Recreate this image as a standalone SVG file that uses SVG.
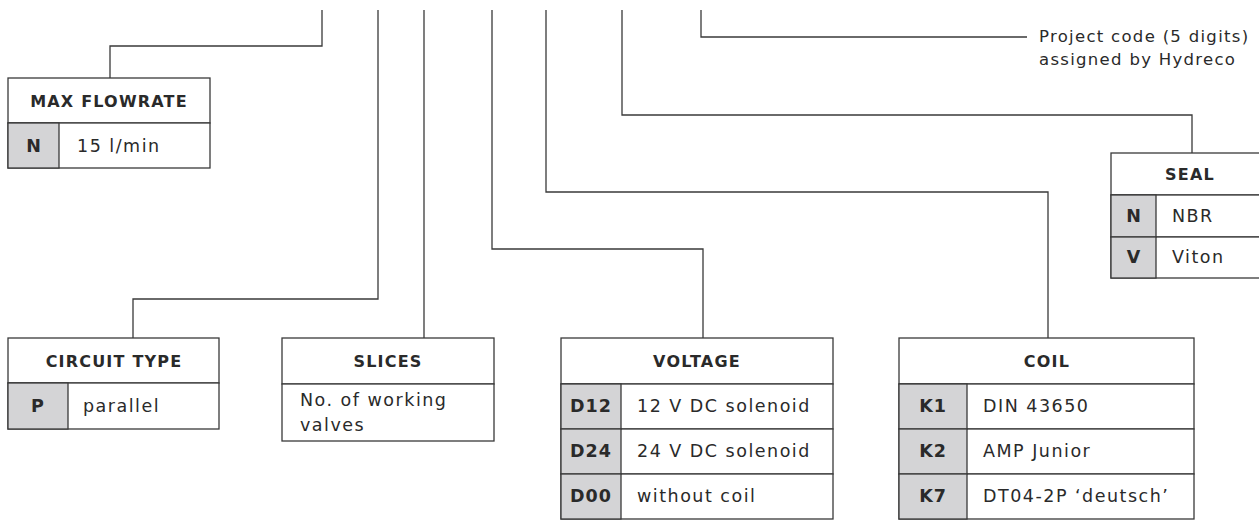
<svg xmlns="http://www.w3.org/2000/svg" width="1259" height="520" viewBox="0 0 1259 520">
<style>
.bx{fill:#fff;stroke:#3a3a3a;stroke-width:1.3}
.g{fill:#d4d4d6;stroke:#3a3a3a;stroke-width:1.3}
.ln{fill:none;stroke:#3a3a3a;stroke-width:1.3}
.h{font-family:"DejaVu Sans",sans-serif;font-weight:bold;font-size:16px;letter-spacing:1.2px;fill:#2a2a2a;text-anchor:middle}
.c{font-family:"DejaVu Sans",sans-serif;font-weight:bold;font-size:17.5px;letter-spacing:1px;fill:#2a2a2a;text-anchor:middle}
.t{font-family:"DejaVu Sans",sans-serif;font-size:17.5px;letter-spacing:1.5px;fill:#2a2a2a}
.p{font-family:"DejaVu Sans",sans-serif;font-size:16.5px;letter-spacing:1.3px;fill:#2a2a2a}
</style>
<rect width="1259" height="520" fill="#fff"/>
<g id="connectors">
<polyline class="ln" points="322,10 322,46 110,46 110,78"/>
<polyline class="ln" points="378,10 378,299 133,299 133,338"/>
<polyline class="ln" points="424,10 424,338"/>
<polyline class="ln" points="492,10 492,249 703,249 703,338"/>
<polyline class="ln" points="546,10 546,192 1048,192 1048,338"/>
<polyline class="ln" points="622,10 622,115 1192,115 1192,153"/>
<polyline class="ln" points="701,10 701,37 1027,37"/>
</g>
<g id="project-code">
<text class="p" x="1039" y="42">Project code (5 digits)</text>
<text class="p" x="1039" y="65">assigned by Hydreco</text>
</g>
<g id="max-flowrate">
<rect class="bx" x="8" y="78" width="202" height="45"/>
<rect class="bx" x="8" y="123" width="202" height="45"/>
<rect class="g" x="8" y="123" width="51" height="45"/>
<text class="h" x="109" y="107">MAX FLOWRATE</text>
<text class="c" x="34" y="152">N</text>
<text class="t" x="77" y="152">15 l/min</text>
</g>
<g id="circuit-type">
<rect class="bx" x="8" y="338" width="211" height="45"/>
<rect class="bx" x="8" y="383" width="211" height="46"/>
<rect class="g" x="8" y="383" width="60" height="46"/>
<text class="h" x="114" y="367">CIRCUIT TYPE</text>
<text class="c" x="38" y="412">P</text>
<text class="t" x="83" y="412">parallel</text>
</g>
<g id="slices">
<rect class="bx" x="282" y="338" width="212" height="46"/>
<rect class="bx" x="282" y="384" width="212" height="57"/>
<text class="h" x="388" y="367">SLICES</text>
<text class="t" x="300" y="406">No. of working</text>
<text class="t" x="300" y="431">valves</text>
</g>
<g id="voltage">
<rect class="bx" x="561" y="338" width="272" height="46"/>
<rect class="bx" x="561" y="384" width="272" height="45"/>
<rect class="bx" x="561" y="429" width="272" height="45"/>
<rect class="bx" x="561" y="474" width="272" height="45"/>
<rect class="g" x="561" y="384" width="60" height="45"/>
<rect class="g" x="561" y="429" width="60" height="45"/>
<rect class="g" x="561" y="474" width="60" height="45"/>
<text class="h" x="697" y="367">VOLTAGE</text>
<text class="c" x="591" y="412">D12</text>
<text class="c" x="591" y="457">D24</text>
<text class="c" x="591" y="502">D00</text>
<text class="t" x="637" y="412">12 V DC solenoid</text>
<text class="t" x="637" y="457">24 V DC solenoid</text>
<text class="t" x="637" y="502">without coil</text>
</g>
<g id="coil">
<rect class="bx" x="899" y="338" width="295" height="46"/>
<rect class="bx" x="899" y="384" width="295" height="45"/>
<rect class="bx" x="899" y="429" width="295" height="45"/>
<rect class="bx" x="899" y="474" width="295" height="45"/>
<rect class="g" x="899" y="384" width="68" height="45"/>
<rect class="g" x="899" y="429" width="68" height="45"/>
<rect class="g" x="899" y="474" width="68" height="45"/>
<text class="h" x="1047" y="367">COIL</text>
<text class="c" x="933" y="412">K1</text>
<text class="c" x="933" y="457">K2</text>
<text class="c" x="933" y="502">K7</text>
<text class="t" x="983" y="412">DIN 43650</text>
<text class="t" x="983" y="457">AMP Junior</text>
<text class="t" x="983" y="502">DT04-2P ‘deutsch’</text>
</g>
<g id="seal">
<rect class="bx" x="1111" y="153" width="160" height="42"/>
<rect class="bx" x="1111" y="195" width="160" height="42"/>
<rect class="bx" x="1111" y="237" width="160" height="41"/>
<rect class="g" x="1111" y="195" width="45" height="42"/>
<rect class="g" x="1111" y="237" width="45" height="41"/>
<text class="h" x="1190" y="180">SEAL</text>
<text class="c" x="1134" y="222">N</text>
<text class="c" x="1134" y="263">V</text>
<text class="t" x="1172" y="222">NBR</text>
<text class="t" x="1172" y="263">Viton</text>
</g>
</svg>
